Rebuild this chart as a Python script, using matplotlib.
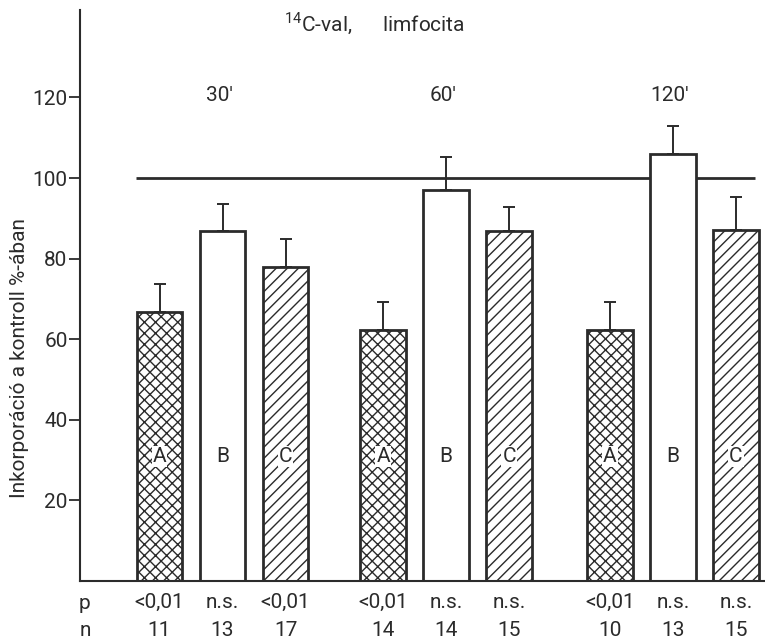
import numpy as np
import matplotlib.pyplot as plt

plt.rcParams['font.family'] = ['Roboto', 'DejaVu Sans']
plt.rcParams['mathtext.fontset'] = 'custom'
plt.rcParams['mathtext.rm'] = 'Roboto'
plt.rcParams['hatch.linewidth'] = 1.0

# adatok: csoportok (inkubációs idő), A/B/C kezelések
idok = ["30'", "60'", "120'"]
betuk = ['A', 'B', 'C']
ertekek_A = [66.7, 62.3, 62.3]
ertekek_B = [86.8, 97.0, 106.0]
ertekek_C = [78.0, 86.8, 87.1]
hiba_A = [7.0, 6.9, 6.9]
hiba_B = [6.7, 8.2, 7.0]
hiba_C = [6.8, 6.0, 8.2]
p_ertekek = ['<0,01', 'n.s.', '<0,01', '<0,01', 'n.s.', 'n.s.', '<0,01', 'n.s.', 'n.s.']
n_ertekek = ['11', '13', '17', '14', '14', '15', '10', '13', '15']

szin = '#2b2b2b'
fs = 15
fig = plt.figure(figsize=(7.65, 6.43), dpi=100)
ax = fig.add_axes([0.1046, 0.0964, 0.894, 0.888])

csop_x = np.array([0, 3.55, 7.15])
szel = 0.72
mintak = ['xxx', '', '///']
for i, (ert, hib) in enumerate([(ertekek_A, hiba_A), (ertekek_B, hiba_B), (ertekek_C, hiba_C)]):
    x = csop_x + i
    ax.errorbar(x, ert, yerr=[np.zeros(3), hib], fmt='none', ecolor=szin,
                elinewidth=1.4, capsize=4, capthick=1.4, zorder=1)
    ax.bar(x, ert, width=szel, facecolor='white', edgecolor=szin,
           linewidth=2, hatch=mintak[i], zorder=2)
    for xx in x:
        ax.text(xx, 31, betuk[i], ha='center', va='center', fontsize=fs, color=szin,
                zorder=3, bbox=dict(facecolor='white', edgecolor='none', pad=0.8))

# 100%-os kontroll vonal
ax.hlines(100, csop_x[0] - szel / 2 - 0.02, csop_x[-1] + 2 + szel / 2 - 0.05,
          color=szin, linewidth=2, zorder=0)

for xx, ido in zip(csop_x + 1, idok):
    ax.text(xx - 0.05, 120.5, ido, ha='center', va='center', fontsize=fs, color=szin)

ax.set_xlim(-1.262, 9.595)
ax.set_ylim(0, 141.7)
ax.set_yticks([20, 40, 60, 80, 100, 120])
ax.set_xticks([])
ax.spines['top'].set_visible(False)
ax.spines['right'].set_visible(False)
ax.spines['left'].set_linewidth(1.5)
ax.spines['bottom'].set_linewidth(1.5)
ax.spines['left'].set_color(szin)
ax.spines['bottom'].set_color(szin)
ax.tick_params(axis='y', length=8, width=1.3, pad=1, labelsize=fs, colors=szin)

# p és n sorok az x tengely alatt
trans = ax.get_xaxis_transform()
poz = np.sort(np.concatenate([csop_x + i for i in range(3)]))
for xx, p, n in zip(poz, p_ertekek, n_ertekek):
    ax.text(xx, -0.037, p, transform=trans, ha='center', va='center', fontsize=fs, color=szin)
    ax.text(xx, -0.087, n, transform=trans, ha='center', va='center', fontsize=fs, color=szin)
fig.text(0.111, 0.062, 'p', ha='center', va='center', fontsize=fs, color=szin)
fig.text(0.111, 0.02, 'n', ha='center', va='center', fontsize=fs, color=szin)

fig.text(0.026, 0.443, 'Inkorporáció a kontroll %-ában', rotation=90,
         ha='center', va='center', fontsize=fs, color=szin)
fig.text(0.49, 0.962, r'$^{14}$C-val,      limfocita', ha='center', va='center',
         fontsize=fs, color=szin)

fig.savefig('out.png', dpi=100)
